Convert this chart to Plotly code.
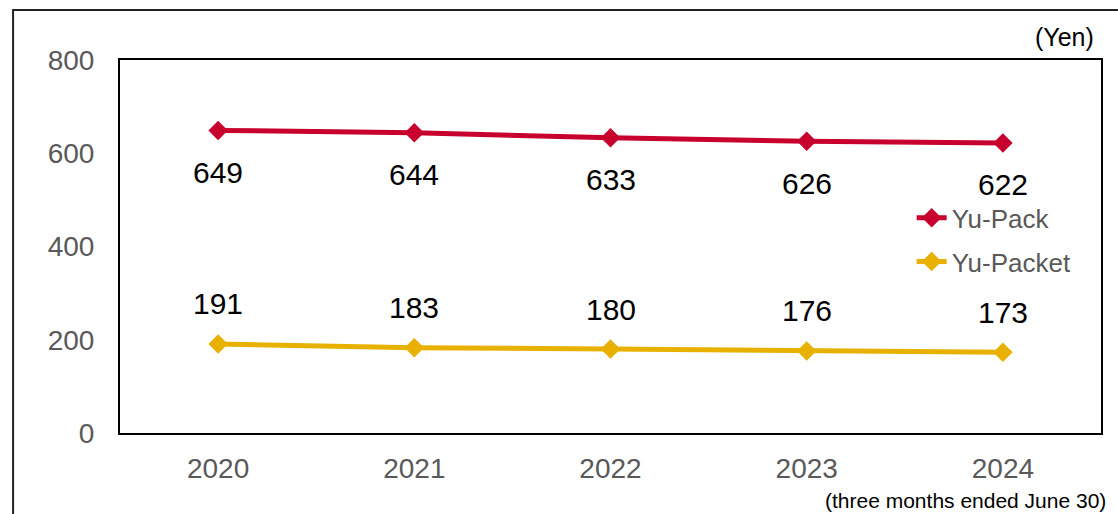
import plotly.graph_objects as go

years = ["2020", "2021", "2022", "2023", "2024"]
yu_pack = [649, 644, 633, 626, 622]
yu_packet = [191, 183, 180, 176, 173]

RED = "#C8002E"
YELLOW = "#E8B100"
FONT = "Arial, Liberation Sans, sans-serif"

fig = go.Figure()
fig.add_trace(go.Scatter(x=years, y=yu_pack, name="Yu-Pack", mode="lines+markers",
                         line=dict(color=RED, width=5),
                         marker=dict(symbol="diamond", size=15, color=RED),
                         legendgroup="a"))
fig.add_trace(go.Scatter(x=years, y=yu_packet, name="Yu-Packet", mode="lines+markers",
                         line=dict(color=YELLOW, width=5),
                         marker=dict(symbol="diamond", size=15, color=YELLOW),
                         legendgroup="b"))

annotations = []
for i, v in enumerate(yu_pack):
    annotations.append(dict(x=i, y=v, xref="x", yref="y", text=str(v), showarrow=False,
                            yshift=-42, font=dict(size=30, color="#000000", family=FONT)))
for i, v in enumerate(yu_packet):
    annotations.append(dict(x=i, y=v, xref="x", yref="y", text=str(v), showarrow=False,
                            yshift=40, font=dict(size=30, color="#000000", family=FONT)))
annotations.append(dict(xref="paper", yref="paper", x=0.995, y=1.0625, text="(Yen)",
                        showarrow=False, xanchor="right", yanchor="middle",
                        font=dict(size=25, color="#000000", family=FONT)))
annotations.append(dict(xref="paper", yref="paper", x=1.007, y=-0.1815,
                        text="(three months ended June 30)",
                        showarrow=False, xanchor="right", yanchor="middle",
                        font=dict(size=21, color="#000000", family=FONT)))

fig.update_layout(
    width=1118, height=514,
    margin=dict(l=120, r=17, t=60, b=81),
    paper_bgcolor="white", plot_bgcolor="white",
    font=dict(family=FONT),
    showlegend=True,
    legend=dict(x=0.807, y=0.64, xanchor="left", yanchor="top",
                font=dict(size=26, color="#595959", family=FONT),
                bgcolor="rgba(0,0,0,0)", tracegroupgap=7),
    annotations=annotations,
    shapes=[dict(type="rect", xref="paper", yref="paper",
                 x0=-0.109, x1=1.05, y0=-0.4, y1=1.134,
                 line=dict(color="#222222", width=2), layer="below")],
)
fig.update_xaxes(type="category", range=[-0.5, 4.5], showgrid=False,
                 showline=True, mirror=True, linecolor="#000000", linewidth=2,
                 ticks="", ticklabelstandoff=9,
                 tickfont=dict(size=28, color="#595959", family=FONT))
fig.update_yaxes(range=[0, 800], dtick=200, showgrid=False, zeroline=False,
                 showline=True, mirror=True, linecolor="#000000", linewidth=2,
                 ticks="", ticklabelstandoff=18,
                 tickfont=dict(size=28, color="#595959", family=FONT))

fig.write_html("out.html", config={"displayModeBar": False},
               post_script="document.body.style.margin='0';")
